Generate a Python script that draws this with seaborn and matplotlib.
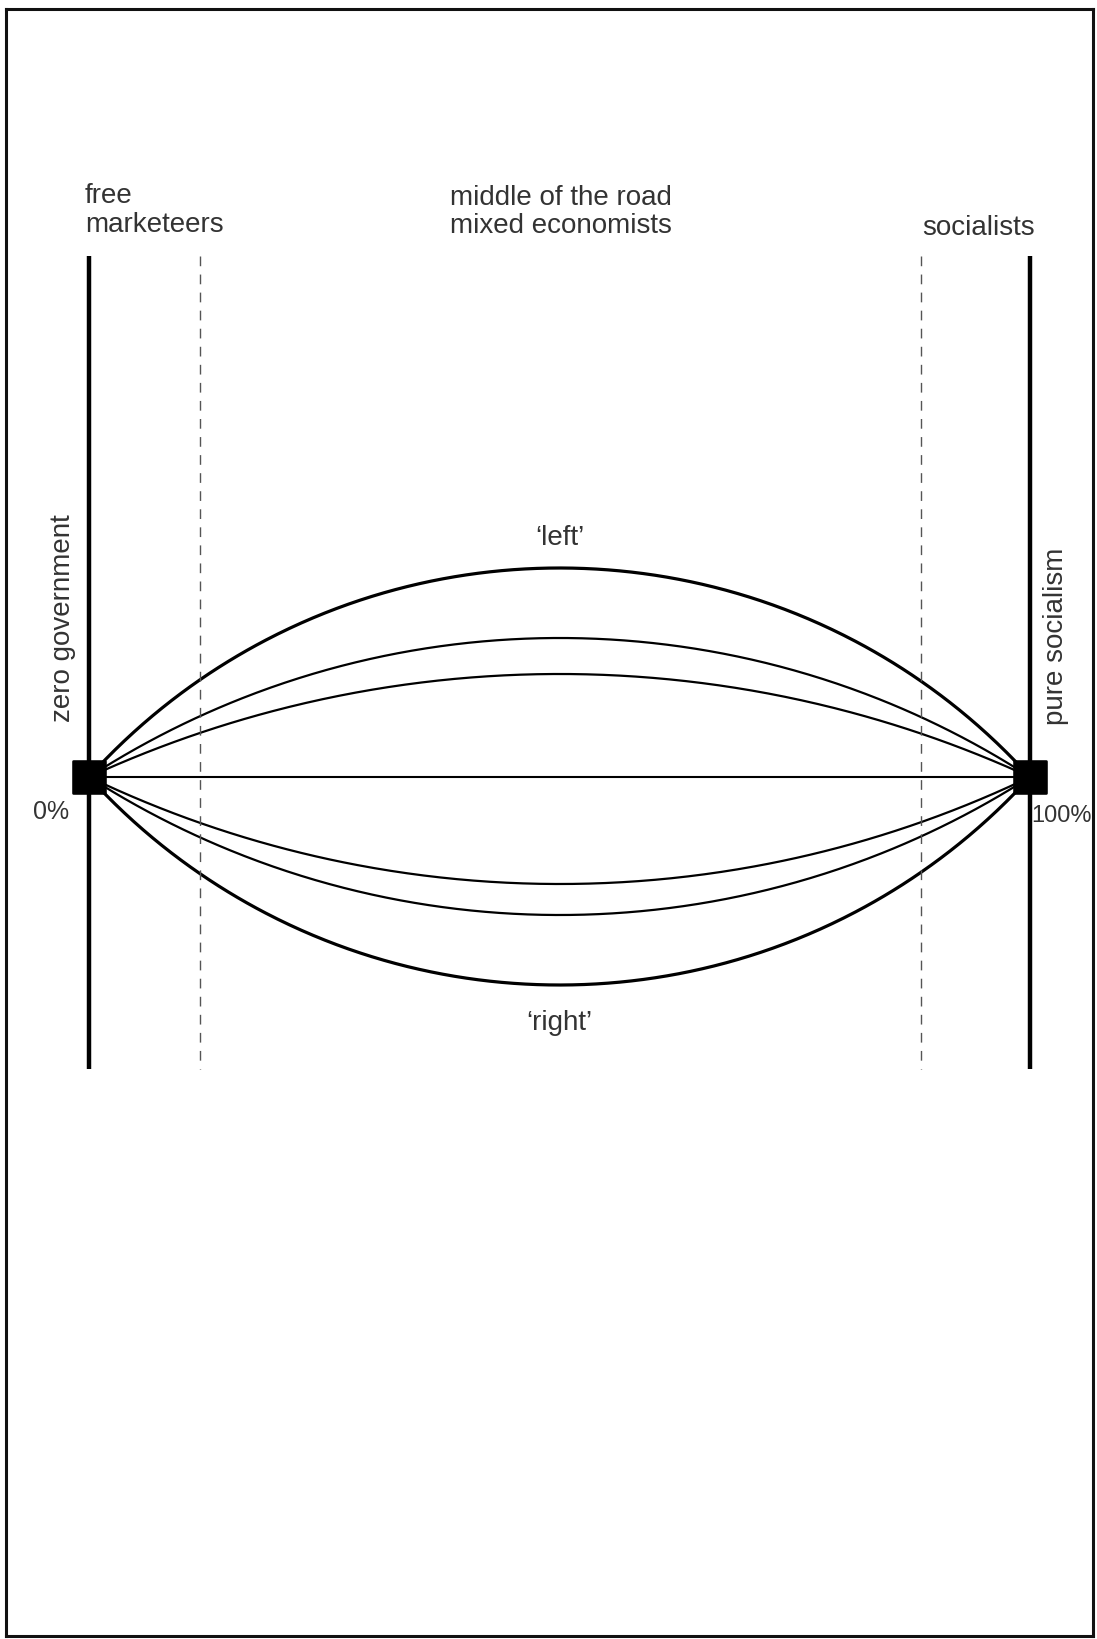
import numpy as np
import pandas as pd
import matplotlib
matplotlib.use("Agg")
import matplotlib.pyplot as plt
import seaborn as sns

# ---------------- data ----------------
# position on the scale (0% = zero government, 100% = pure socialism)
endpoints_pct = [0, 100]
boundary_pct = [11.8, 88.4]          # dashed dividers between groups
group_labels = ["free\nmarketeers", "middle of the road\nmixed economists", "socialists"]
axis_end_labels = ["zero government", "pure socialism"]
pct_labels = ["0%", "100%"]
# sagitta (height above/below the centre line, px units) of each arc
curve_names = ["left1", "left2", "left3", "centre", "right3", "right2", "right1"]
curve_heights = [209, 139, 103, 0, -107, -138, -208]
curve_widths = [2.3, 1.6, 1.6, 1.5, 1.6, 1.6, 2.3]
arc_labels = ["\u2018left\u2019", "\u2018right\u2019"]

# ---------------- layout ----------------
W, H = 1097, 1639
px_left, px_right, px_top, px_bot = 6, 1093, 9, 1636   # frame
x0_px, x100_px, base_px = 89, 1030, 777               # 0%/100% points, centre line
sx = (x100_px - x0_px) / 100.0                        # px per percent

sns.set_theme(style="white")
plt.rcParams["font.family"] = ["Liberation Sans", "DejaVu Sans"]

fig = plt.figure(figsize=(W / 100, H / 100), dpi=100)
fig.patch.set_facecolor("white")
ax = fig.add_axes([px_left / W, (H - px_bot) / H,
                   (px_right - px_left) / W, (px_bot - px_top) / H])
ax.set_xlim((px_left - x0_px) / sx, (px_right - x0_px) / sx)
ax.set_ylim(base_px - px_bot, base_px - px_top)
ax.set_xticks([]); ax.set_yticks([])
for s in ax.spines.values():
    s.set_visible(True)
    s.set_color("#111111")
    s.set_linewidth(2.2)

# arcs (circular arcs through both end points)
rows = []
t = np.linspace(0, 1, 400)
half = 50.0 * sx  # half chord in px
for name, h in zip(curve_names, curve_heights):
    xs_px = (t - 0.5) * 2 * half
    if h == 0:
        ys = np.zeros_like(xs_px)
    else:
        a = abs(h)
        R = (half ** 2 + a ** 2) / (2 * a)
        ys = np.sqrt(R ** 2 - xs_px ** 2) - (R - a)
        ys = np.sign(h) * ys
    for xv, yv in zip(xs_px / sx + 50.0, ys):
        rows.append((name, xv, yv))
df = pd.DataFrame(rows, columns=["curve", "x", "y"])

for name, lw in zip(curve_names, curve_widths):
    sns.lineplot(data=df[df.curve == name], x="x", y="y", sort=False,
                 color="black", linewidth=lw, ax=ax, estimator=None)

# vertical end lines
for xp in endpoints_pct:
    ax.plot([xp, xp], [base_px - 256, base_px - 1069], color="black",
            linewidth=3.2, solid_capstyle="butt")
# dashed dividers
for xp in boundary_pct:
    ax.plot([xp, xp], [base_px - 256, base_px - 1069], color="#555555",
            linewidth=1.0, dashes=(7, 6))

# end squares
sq = pd.DataFrame({"x": endpoints_pct, "y": [0, 0]})
sns.scatterplot(data=sq, x="x", y="y", marker="s", s=540, color="black",
                edgecolor="black", ax=ax, zorder=5)
ax.set_xlabel(""); ax.set_ylabel("")

tc = "#333333"
fs = 20
def T(px_x, px_y, s, size=fs, **kw):
    ax.text((px_x - x0_px) / sx, base_px - px_y, s, color=tc, fontsize=size, **kw)

g0 = group_labels[0].split("\n")
g1 = group_labels[1].split("\n")
T(85, 203, g0[0], ha="left", va="baseline")
T(85, 232, g0[1], ha="left", va="baseline")
T(450, 205, g1[0], ha="left", va="baseline")
T(450, 233, g1[1], ha="left", va="baseline")
T(922, 235, group_labels[2], ha="left", va="baseline")

T(560, 545, arc_labels[0], ha="center", va="baseline")
T(559, 1030, arc_labels[1], ha="center", va="baseline")

T(33, 819, pct_labels[0], size=18, ha="left", va="baseline")
T(1031, 822, pct_labels[1], size=17, ha="left", va="baseline")

T(63, 618, axis_end_labels[0], ha="center", va="center", rotation=90)
T(1056, 636, axis_end_labels[1], ha="center", va="center", rotation=90)

fig.savefig("out.png", dpi=100, facecolor="white")
